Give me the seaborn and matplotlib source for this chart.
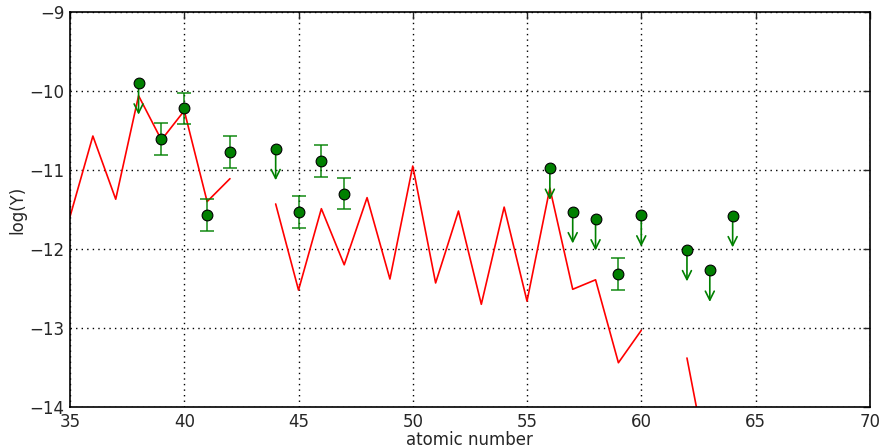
import numpy as np
import pandas as pd
import matplotlib
matplotlib.use("Agg")
import matplotlib.pyplot as plt
import seaborn as sns

# Model curve (red line); NaN = gap
model_z = [35, 36, 37, 38, 39, 40, 41, 42, 43, 44, 45, 46, 47, 48, 49, 50,
           51, 52, 53, 54, 55, 56, 57, 58, 59, 60, 61, 62, 63]
model_logy = [-11.59, -10.57, -11.37, -10.06, -10.62, -10.25, -11.40, -11.11, np.nan,
              -11.43, -12.52, -11.49, -12.20, -11.35, -12.38, -10.95,
              -12.43, -11.52, -12.70, -11.47, -12.66, -11.23, -12.51, -12.39,
              -13.44, -13.03, np.nan, -13.38, -14.88]

# Measurements with error bars
meas_z = [39, 40, 41, 42, 45, 46, 47, 59]
meas_logy = [-10.61, -10.22, -11.57, -10.77, -11.53, -10.89, -11.30, -12.32]
meas_err = [0.2, 0.2, 0.2, 0.2, 0.2, 0.2, 0.2, 0.2]

# Upper limits
ul_z = [38, 44, 56, 57, 58, 60, 62, 63, 64]
ul_logy = [-9.90, -10.73, -10.98, -11.53, -11.62, -11.57, -12.01, -12.27, -11.58]
ul_len = 0.4

sns.set_style("white")
plt.rcParams['font.family'] = ['DejaVu Sans']
plt.rcParams['font.size'] = 12

fig = plt.figure(figsize=(8.83, 4.47), dpi=100)
ax = fig.add_axes([0.0793, 0.0895, 0.9057, 0.8837])

df_model = pd.DataFrame({"z": model_z, "logy": model_logy})
ax.plot(df_model["z"], df_model["logy"], color="red", lw=1.2, zorder=2)

# error bars
ax.errorbar(meas_z, meas_logy, yerr=meas_err, fmt="none", ecolor="green",
            elinewidth=1.2, capsize=5, capthick=1.2, alpha=0.85, zorder=3)

# upper-limit arrows
for z, v in zip(ul_z, ul_logy):
    ax.annotate("", xy=(z, v - ul_len), xytext=(z, v),
                arrowprops=dict(arrowstyle="->", color="green", lw=1.2,
                                mutation_scale=16, shrinkA=0, shrinkB=0),
                zorder=3)

all_z = meas_z + ul_z
all_v = meas_logy + ul_logy
sns.scatterplot(x=all_z, y=all_v, ax=ax, color="green", edgecolor="black",
                s=60, linewidth=0.8, zorder=4, legend=False)

ax.set_xlim(35, 70)
ax.set_ylim(-14, -9)
ax.set_xticks(np.arange(35, 71, 5))
ax.set_yticks(np.arange(-14, -8.5, 1))
ax.set_xlabel("atomic number", fontsize=12, labelpad=0)
ax.set_ylabel("log(Y)", fontsize=12, labelpad=2)

ax.grid(True, color="black", linestyle=(0, (1, 3)), linewidth=1)
ax.tick_params(direction="in", top=True, right=True, length=5, width=1,
               labelsize=12, pad=4)
for sp in ax.spines.values():
    sp.set_visible(True)
    sp.set_color("black")
    sp.set_linewidth(1.2)

fig.savefig("out.png", dpi=100)
